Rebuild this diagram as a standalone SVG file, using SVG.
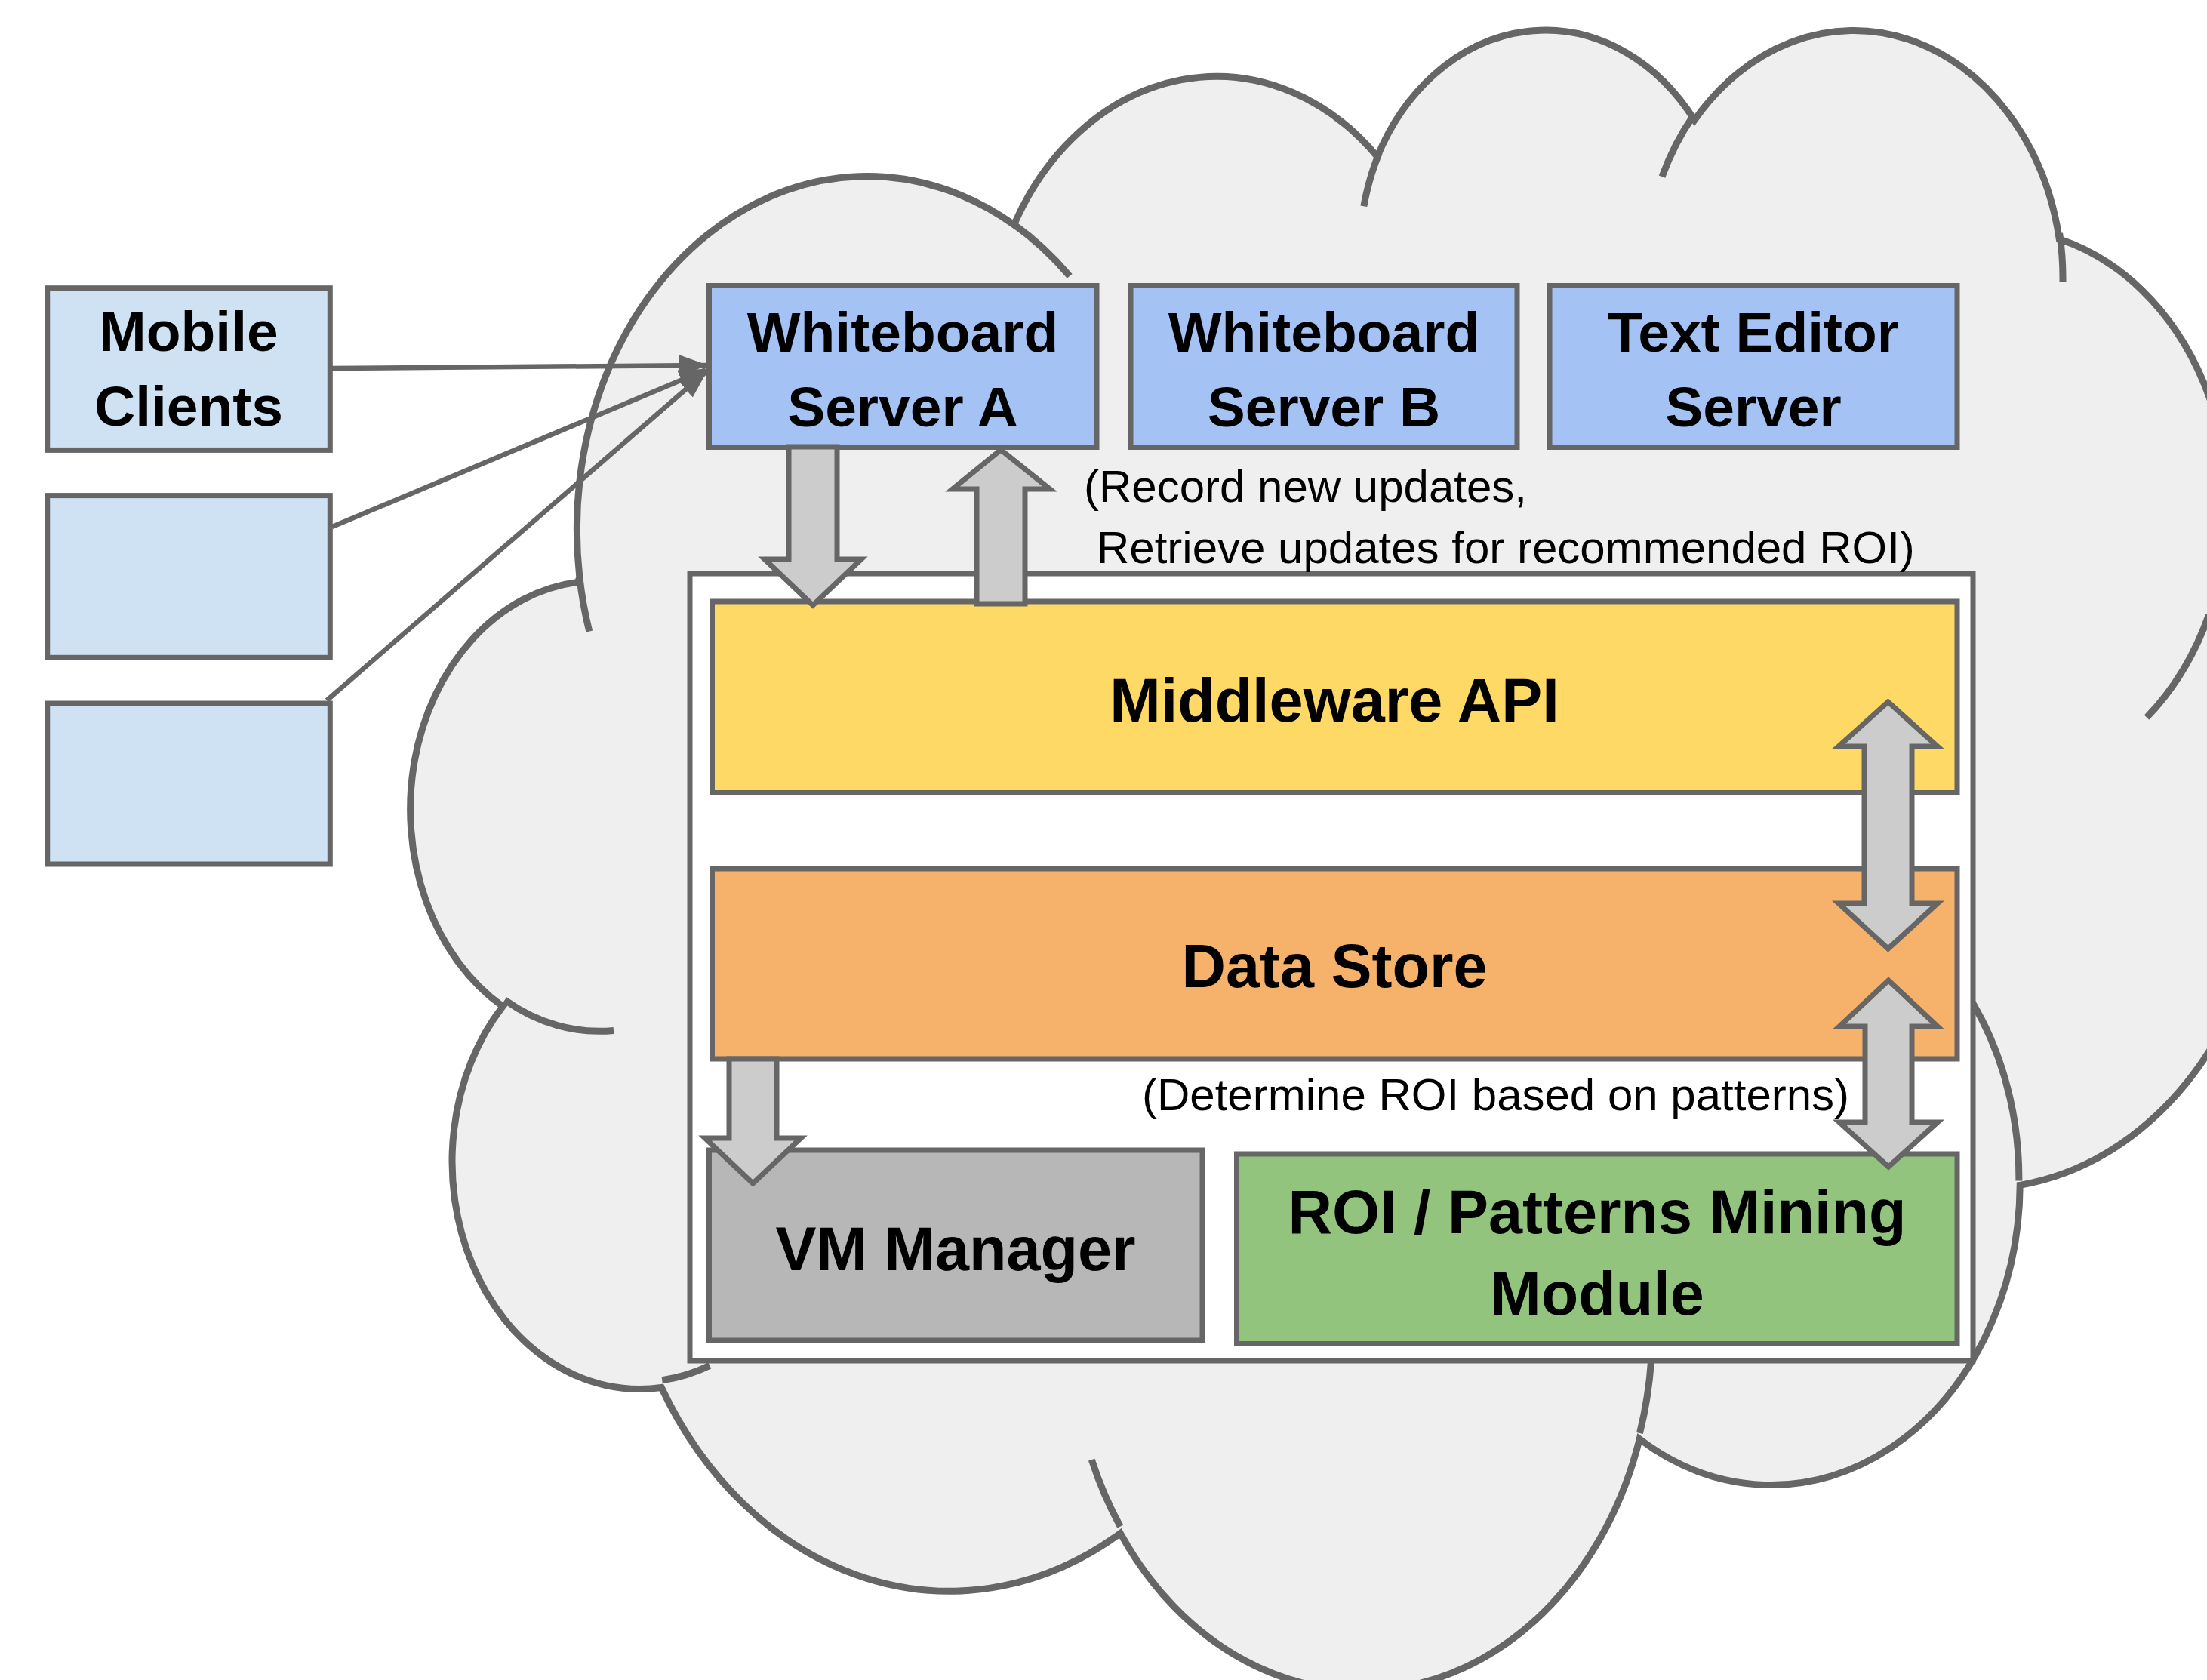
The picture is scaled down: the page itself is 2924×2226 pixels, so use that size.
<svg xmlns="http://www.w3.org/2000/svg" width="2924" height="2226" viewBox="0 0 2924 2226">
<style>
.box{stroke:#666666;stroke-width:7}
.lbl{font-family:"Liberation Sans",Arial,sans-serif;font-weight:bold;font-size:75px;fill:#000;text-anchor:middle}
.big{font-size:81px}
.note{font-family:"Liberation Sans",Arial,sans-serif;font-size:60px;fill:#000}
.blk{fill:#cccccc;stroke:#666666;stroke-width:7;stroke-linejoin:miter}
.cl{stroke:#666666;stroke-width:6.5;fill:none}
</style>
<defs>
<marker id="ah" markerUnits="userSpaceOnUse" markerWidth="38" markerHeight="28" viewBox="0 0 38 28" refX="35" refY="14" orient="auto">
<path d="M0,0 L38,14 L0,28 z" fill="#666666"/>
</marker>
</defs>
<rect width="2924" height="2226" fill="#ffffff"/>
<g id="cloud" transform="translate(545.7,33) scale(0.05696,0.0509)">
<path d="M 3900 14370 A 6753 9190 0 0 1 14005 5202 A 5333 7267 0 0 1 22456 3431 A 4365 5945 0 0 1 29833 2479 A 4857 6595 0 0 1 38318 5575 A 5333 7273 0 0 1 41818 15459 A 6775 9220 0 0 1 37404 30203 A 5785 7867 0 0 1 28555 36813 A 6752 9215 0 0 1 16479 39264 A 7720 10543 0 0 1 5804 35471 A 4360 5918 0 0 1 2113 25549 A 4345 5945 0 0 1 3863 14505 Z" fill="#efefef" stroke="#666666" stroke-width="9" vector-effect="non-scaling-stroke"/>
<path d="M 4693 26177 A 4345 5945 0 0 1 2160 25380 M 6928 34899 A 4360 5918 0 0 1 5820 35280 M 16478 39090 A 6752 9215 0 0 1 15811 37351 M 28827 34751 A 6752 9215 0 0 1 28560 36660 M 34129 22954 A 5785 7867 0 0 1 37380 30090 M 41798 15354 A 5333 7273 0 0 1 40350 18030 M 38324 5426 A 4857 6595 0 0 1 38400 6690 M 29078 3952 A 4857 6595 0 0 1 29820 2340 M 22141 4720 A 4365 5945 0 0 1 22500 3330 M 14000 5192 A 6753 9190 0 0 1 15300 6540 M 4127 15789 A 6753 9190 0 0 1 3900 14370" fill="none" stroke="#666666" stroke-width="9" vector-effect="non-scaling-stroke"/>
</g>
<g id="container">
<rect x="914" y="760" width="1700" height="1043" fill="#ffffff" class="box"/>
</g>
<g id="mobile-clients">
<rect x="62.7" y="381.7" width="374.6" height="214.7" fill="#cfe2f3" class="box"/>
<text class="lbl" x="250" y="465">Mobile</text>
<text class="lbl" x="250" y="564">Clients</text>
</g>
<g id="client-2">
<rect x="62.7" y="656.6" width="374.6" height="214.7" fill="#cfe2f3" class="box"/>
</g>
<g id="client-3">
<rect x="62.7" y="932" width="374.6" height="213" fill="#cfe2f3" class="box"/>
</g>
<g id="whiteboard-a">
<rect x="939.5" y="378.5" width="513.5" height="214" fill="#a4c2f4" class="box"/>
<text class="lbl" x="1196" y="466">Whiteboard</text>
<text class="lbl" x="1196" y="565">Server A</text>
</g>
<g id="whiteboard-b">
<rect x="1498" y="378.5" width="512" height="214" fill="#a4c2f4" class="box"/>
<text class="lbl" x="1754" y="466">Whiteboard</text>
<text class="lbl" x="1754" y="565">Server B</text>
</g>
<g id="text-editor">
<rect x="2053" y="378.5" width="540" height="214" fill="#a4c2f4" class="box"/>
<text class="lbl" x="2323" y="466">Text Editor</text>
<text class="lbl" x="2323" y="565">Server</text>
</g>
<g id="middleware">
<rect x="943.5" y="797" width="1649.5" height="253.5" fill="#ffd966" class="box"/>
<text class="lbl big" x="1768" y="956">Middleware API</text>
</g>
<g id="datastore">
<rect x="943.5" y="1151" width="1649.5" height="252" fill="#f6b26b" class="box"/>
<text class="lbl big" x="1768" y="1308">Data Store</text>
</g>
<g id="vm-manager">
<rect x="939.5" y="1524" width="653.5" height="252" fill="#b7b7b7" class="box"/>
<text class="lbl big" x="1266" y="1683">VM Manager</text>
</g>
<g id="roi-module">
<rect x="1638.5" y="1529" width="954.5" height="251.5" fill="#93c47d" class="box"/>
<text class="lbl big" x="2116" y="1634">ROI / Patterns Mining</text>
<text class="lbl big" x="2116" y="1742">Module</text>
</g>
<g id="notes">
<text class="note" x="1436" y="665">(Record new updates,</text>
<text class="note" x="1453" y="746">Retrieve updates for recommended ROI)</text>
<text class="note" x="1513" y="1471">(Determine ROI based on patterns)</text>
</g>
<g id="connectors">
<line class="cl" x1="437" y1="488" x2="935" y2="484" marker-end="url(#ah)"/>
<line class="cl" x1="440" y1="698" x2="935" y2="490" marker-end="url(#ah)"/>
<line class="cl" x1="433" y1="928" x2="935" y2="493" marker-end="url(#ah)"/>
<polygon class="blk" points="1045,592 1109,592 1109,741 1141,741 1077,802 1013,741 1045,741"/>
<polygon class="blk" points="1326,596 1391,648 1358,648 1358,800 1294,800 1294,648 1262,648"/>
<polygon class="blk" points="2501.5,930 2567,989 2533,989 2533,1197 2567,1197 2501.5,1257 2436,1197 2470,1197 2470,989 2436,989"/>
<polygon class="blk" points="2502,1299 2567,1360 2533,1360 2533,1487 2567,1487 2502,1546 2437,1487 2471,1487 2471,1360 2437,1360"/>
<polygon class="blk" points="966,1403 1029,1403 1029,1508 1061,1508 997.5,1568 934,1508 966,1508"/>
</g>
</svg>
